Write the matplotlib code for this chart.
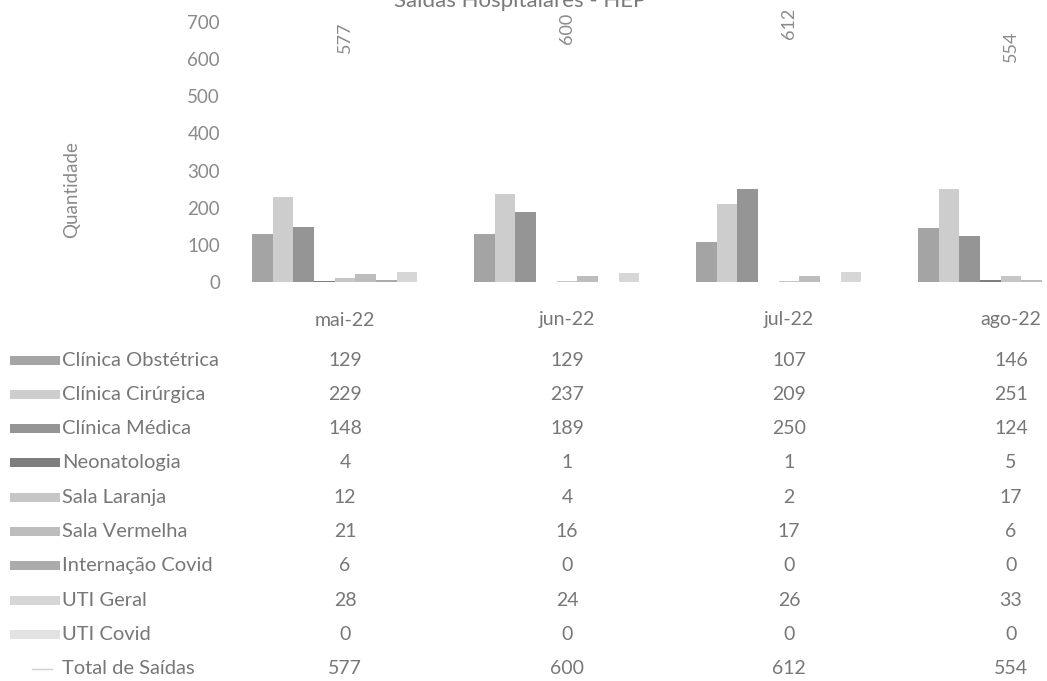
import matplotlib
matplotlib.use("Agg")
import matplotlib.pyplot as plt
import matplotlib.transforms as mtransforms
from matplotlib.patches import Rectangle
from matplotlib.lines import Line2D
import numpy as np

plt.rcParams['font.family'] = ['Lato', 'DejaVu Sans']

months = ["mai-22", "jun-22", "jul-22", "ago-22"]
series_names = ["Clínica Obstétrica", "Clínica Cirúrgica", "Clínica Médica",
                "Neonatologia", "Sala Laranja", "Sala Vermelha",
                "Internação Covid", "UTI Geral", "UTI Covid"]
obstetrica = [129, 129, 107, 146]
cirurgica = [229, 237, 209, 251]
medica = [148, 189, 250, 124]
neonatologia = [4, 1, 1, 5]
sala_laranja = [12, 4, 2, 17]
sala_vermelha = [21, 16, 17, 6]
internacao_covid = [6, 0, 0, 0]
uti_geral = [28, 24, 26, 33]
uti_covid = [0, 0, 0, 0]
total_saidas = [577, 600, 612, 554]
yticks = [0, 100, 200, 300, 400, 500, 600, 700]

series_values = [obstetrica, cirurgica, medica, neonatologia, sala_laranja,
                 sala_vermelha, internacao_covid, uti_geral, uti_covid]
colors = ["#a4a4a4", "#cdcdcd", "#959595", "#7e7e7e", "#c6c6c6",
          "#bdbdbd", "#ababab", "#d6d6d6", "#e2e2e2"]

W, H = 1047, 681
fig = plt.figure(figsize=(W / 100, H / 100), dpi=100)

# axes box in pixels
left_px, right_px = 234, 1122
top_px, bottom_px = 22, 282
ax = fig.add_axes([left_px / W, 1 - bottom_px / H,
                   (right_px - left_px) / W, (bottom_px - top_px) / H])

x = np.arange(len(months))
n = len(series_values)
bw = 0.093
for i, (vals, c) in enumerate(zip(series_values, colors)):
    offs = (i - (n - 1) / 2) * bw
    ax.bar(x + offs, vals, width=bw, color=c, edgecolor='none')

ax.set_xlim(-0.5, len(months) - 0.5)
ax.set_ylim(0, 700)
ax.set_yticks(yticks)
ax.set_yticklabels([str(t) for t in yticks], fontsize=13.5, color="#8a8a8a")
ax.tick_params(axis='y', length=0, pad=10)
ax.set_xticks([])
for s in ax.spines.values():
    s.set_visible(False)

# total labels on a secondary (invisible) axis
ax2 = ax.twinx()
ax2.set_ylim(0, 660)
ax2.set_xlim(ax.get_xlim())
ax2.bar(x, total_saidas, width=bw, color='none', edgecolor='none')
for xi, t in zip(x, total_saidas):
    ax2.text(xi, t + 4, str(t), rotation=90, ha='center', va='bottom',
             fontsize=13, color="#8a8a8a")
ax2.set_yticks([])
for s in ax2.spines.values():
    s.set_visible(False)

# title (partially cut at top, as in the scan)
fig.text(0.497, 1.0 - 1 / H, "Saídas Hospitalares - HEP", ha='center', va='center',
         fontsize=16, color="#7a7a7a")

# y-axis title
fig.text(72 / W, 1 - 190 / H, "Quantidade", rotation=90, ha='center', va='center',
         fontsize=13.5, color="#8a8a8a")

# data table
trans = mtransforms.blended_transform_factory(ax.transData, fig.transFigure)
header_y = 320
for xi, m in zip(x, months):
    ax.text(xi, 1 - header_y / H, m, transform=trans, ha='center', va='center',
            fontsize=14, color="#777777")

row_names = series_names + ["Total de Saídas"]
row_vals = series_values + [total_saidas]
row0 = 360
row_step = 34.3
for r, (name, vals) in enumerate(zip(row_names, row_vals)):
    yp = row0 + r * row_step
    yf = 1 - yp / H
    fig.text(62 / W, yf, name, ha='left', va='center', fontsize=14.5, color="#777777")
    for xi, v in zip(x, vals):
        ax.text(xi, yf, str(v), transform=trans, ha='center', va='center',
                fontsize=14, color="#777777")
    if r < n:
        fig.patches.append(Rectangle((10 / W, yf - 4.5 / H), 50 / W, 9 / H,
                                     transform=fig.transFigure, facecolor=colors[r],
                                     edgecolor='none'))
    else:
        fig.lines.append(Line2D([32 / W, 52 / W], [yf, yf], transform=fig.transFigure,
                                color="#d0d0d0", lw=1))

fig.savefig("out.png", dpi=100)
